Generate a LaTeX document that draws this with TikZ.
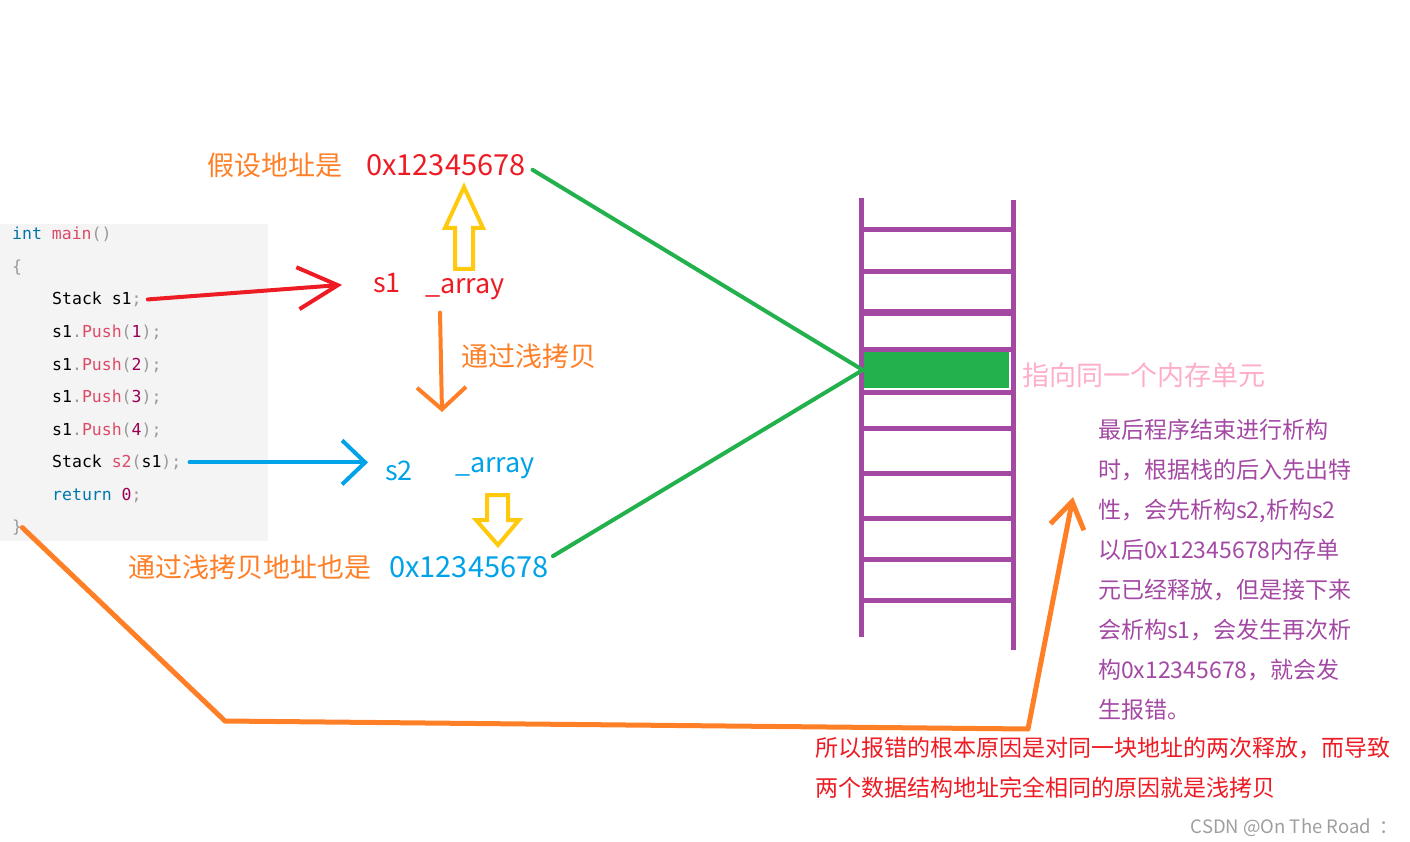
\documentclass[tikz,border=0pt]{standalone}
\usepackage{fontspec}
\setmainfont{Noto Sans CJK SC}
\newfontfamily\codefont{DejaVu Sans Mono}
\usepackage{xcolor}
\usetikzlibrary{arrows.meta}

\definecolor{paintorange}{HTML}{FF7F27}
\definecolor{paintred}{HTML}{ED1C24}
\definecolor{paintblue}{HTML}{00A2E8}
\definecolor{paintgreen}{HTML}{22B14C}
\definecolor{paintpurple}{HTML}{A349A4}
\definecolor{paintyellow}{HTML}{FFC90E}
\definecolor{paintpink}{HTML}{FFAEC9}
\definecolor{codebg}{HTML}{F4F4F4}
\definecolor{codekw}{HTML}{0077AA}
\definecolor{codefn}{HTML}{DD4A68}
\definecolor{codenum}{HTML}{990055}
\definecolor{codepun}{HTML}{999999}

\newcommand{\ckw}[1]{\textcolor{codekw}{#1}}
\newcommand{\cfn}[1]{\textcolor{codefn}{#1}}
\newcommand{\cnum}[1]{\textcolor{codenum}{#1}}
\newcommand{\cpun}[1]{\textcolor{codepun}{#1}}

\begin{document}
\begin{tikzpicture}[x=1pt, y=-1pt,
  lbl/.style={font=\fontsize{27}{30}\selectfont, inner sep=0pt, anchor=base west},
  hexlbl/.style={lbl, font=\fontsize{29}{32}\selectfont},
  note/.style={font=\fontsize{23}{26}\selectfont, inner sep=0pt, anchor=base west},
  code/.style={font=\codefont\fontsize{16.5}{18}\selectfont, inner sep=0pt, anchor=base west},
  stackline/.style={draw=paintpurple, line width=5pt},
  cell/.style={fill=paintgreen, minimum width=146pt, minimum height=36pt, inner sep=0pt},
  greenline/.style={draw=paintgreen, line width=4pt, line cap=round},
  hollow/.style={draw=paintyellow, line width=4pt, line join=miter},
  barb/.style={line width=4pt, line cap=round, line join=round}
]
\useasboundingbox (0,0) rectangle (1410,842);

% Code block
\fill[codebg] (0,224) rectangle (268,541);
\foreach \x/\txt [count=\i] in {
  12/{\ckw{int} \cfn{main}\cpun{()}},
  12/{\cpun{\{}},
  52/{Stack s1\cpun{;}},
  52/{s1\cpun{.}\cfn{Push}\cpun{(}\cnum{1}\cpun{);}},
  52/{s1\cpun{.}\cfn{Push}\cpun{(}\cnum{2}\cpun{);}},
  52/{s1\cpun{.}\cfn{Push}\cpun{(}\cnum{3}\cpun{);}},
  52/{s1\cpun{.}\cfn{Push}\cpun{(}\cnum{4}\cpun{);}},
  52/{Stack \cfn{s2}\cpun{(}s1\cpun{);}},
  52/{\ckw{return} \cnum{0}\cpun{;}},
  12/{\cpun{\}}}}
  \node[code] (c\i) at (\x, 240+32.5*\i-32.5) {\txt};

% Labels
\node[lbl, text=paintorange] (hyp) at (207,176) {假设地址是};
\node[hexlbl, text=paintred] (addr1) at (366,176) {0x12345678};
\node[lbl, text=paintred] (s1) at (373,292) {s1};
\node[lbl, text=paintred] (arr1) at (425,294) {\_array};
\node[lbl, text=paintorange] (copy) at (461,366) {通过浅拷贝};
\node[lbl, text=paintblue] (s2) at (385,480) {s2};
\node[lbl, text=paintblue] (arr2) at (455,472) {\_array};
\node[lbl, text=paintorange] (copyaddr) at (128,577) {通过浅拷贝地址也是};
\node[hexlbl, text=paintblue] (addr2) at (389,577) {0x12345678};
\node[lbl, text=paintpink] (same) at (1022,385) {指向同一个内存单元};

% Explanation
\foreach \txt [count=\i] in {最后程序结束进行析构, 时，根据栈的后入先出特,
  {性，会先析构s2,析构s2}, 以后0x12345678内存单, 元已经释放，但是接下来,
  会析构s1，会发生再次析, 构0x12345678，就会发, 生报错。}
  \node[note, text=paintpurple] (why\i) at (1098, 398+40*\i) {\txt};
\node[note, text=paintred] (cause1) at (815,756) {所以报错的根本原因是对同一块地址的两次释放，而导致};
\node[note, text=paintred] (cause2) at (815,796) {两个数据结构地址完全相同的原因就是浅拷贝};
\node[font=\fontsize{18.5}{20}\selectfont, text=black!38, inner sep=0pt, anchor=base east] (mark) at (1398,833) {CSDN @On The Road\ \ ：};

% Stack
\node[cell] (cell) at (936,370) {};
\draw[stackline] (861,198) -- (861,637);
\draw[stackline] (1013,200) -- (1013,650);
\foreach \y in {230,272,349,392,428,473,518,559,600}
  \draw[stackline] (861,\y) -- (1013,\y);
\draw[stackline, line width=7pt] (861,312) -- (1013,312);

% Pointers to the same cell
\draw[greenline, shorten <=8pt] (addr1.east) -- (cell.west);
\draw[greenline, shorten <=5pt] ([yshift=8pt]addr2.east) -- (cell.west);

% Arrows
\draw[barb, paintred, -{Straight Barb[length=40pt, width=42pt]}, shorten <=6pt, shorten >=31pt] (c3.east) -- (s1.west);
\draw[barb, paintblue, -{Straight Barb[length=23pt, width=44pt]}, shorten <=8pt, shorten >=17pt] (c8.east) -- (c8.east -| s2.west);
\coordinate (copyend) at (442,412);
\draw[barb, paintorange, -{Straight Barb[length=22pt, width=49pt]}] ([xshift=15pt, yshift=-12pt]arr1.south west) -- (copyend);
\coordinate (bend1) at (225,721);
\coordinate (bend2) at (1028,729);
\coordinate (freeend) at (1073,497);
\draw[barb, paintorange, line width=5pt, -{Straight Barb[length=26pt, width=34pt]}] (c10.east) -- (bend1) -- (bend2) -- (freeend);

% Hollow yellow arrows
\coordinate (uptip) at (464,187);
\draw[hollow] (uptip) -- ++(19,41) -- ++(-10,0) -- ++(0,41) -- ++(-18,0) -- ++(0,-41) -- ++(-10,0) -- cycle;
\coordinate (dntip) at (498,545);
\draw[hollow] (dntip) -- ++(21,-25) -- ++(-11,0) -- ++(0,-25) -- ++(-21,0) -- ++(0,25) -- ++(-11,0) -- cycle;
\end{tikzpicture}
\end{document}
